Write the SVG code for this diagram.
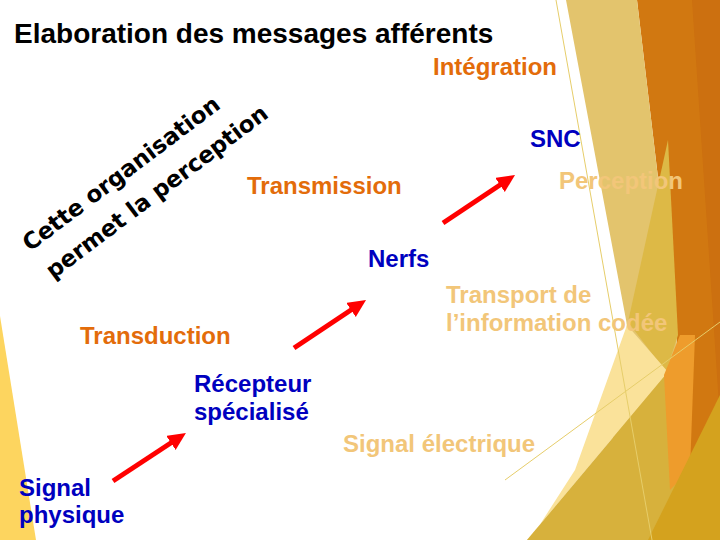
<svg xmlns="http://www.w3.org/2000/svg" width="720" height="540" viewBox="0 0 720 540">
<defs>
<style>
.t{font-family:"Liberation Sans",Arial,sans-serif;font-weight:bold;font-size:24px}
.blue{fill:#0000BF}
.orange{fill:#E36C0A}
.light{fill:#F2C679}
.title{font-family:"Liberation Sans",Arial,sans-serif;font-weight:bold;font-size:28px;fill:#000}
.hand{font-family:"DejaVu Sans",sans-serif;font-weight:bold;font-size:23px;fill:#000}
.arrow{stroke:#FF0000;stroke-width:5;fill:none;marker-end:url(#head)}
.thin{stroke:#E6CD6A;stroke-width:1;fill:none}
</style>
<marker id="head" markerUnits="userSpaceOnUse" markerWidth="19" markerHeight="18" refX="8" refY="8.5" orient="auto" viewBox="0 0 19 18">
<path d="M0,0 L18,8.5 L0,17 Z" fill="#FF0000"/>
</marker>
</defs>
<rect width="720" height="540" fill="#FFFFFF"/>
<g id="background">
<polygon points="0,316 36,540 0,540" fill="#FDD55F"/>
<polygon points="637,0 720,0 720,540 690,540 676,330" fill="#D17811"/>
<polygon points="692,0 720,0 720,420" fill="#CC7010"/>
<polygon points="566,0 637,0 676,330 690,540 600,540 627,325" fill="#E3C46D"/>
<polygon points="668,140 678,335 666,372 628,322" fill="#DDB946"/>
<polygon points="627,325 668,372 527,540 530,540 575,470" fill="#FAE29A"/>
<polygon points="527,540 668,372 690,360 690,540" fill="#D7B13C"/>
<polygon points="664,375 680,335 695,335 690,470 670,490" fill="#EE9C2C"/>
<polygon points="720,395 720,540 648,540" fill="#D4A21E"/>
<line class="thin" x1="556" y1="0" x2="652" y2="540"/>
<line class="thin" x1="505" y1="480" x2="720" y2="322"/>
</g>
<g id="title"><text class="title" x="14" y="43">Elaboration des messages afférents</text></g>
<g id="note" transform="translate(30,252) rotate(-37)">
<text class="hand" x="0" y="0" textLength="240" lengthAdjust="spacingAndGlyphs">Cette organisation</text>
<text class="hand" x="2" y="36" textLength="271" lengthAdjust="spacingAndGlyphs">permet la perception</text>
</g>
<g id="connectors">
<line class="arrow" x1="113" y1="481" x2="177.6" y2="438.5"/>
<line class="arrow" x1="294" y1="348" x2="357.7" y2="305.5"/>
<line class="arrow" x1="443" y1="223" x2="506.7" y2="180.5"/>
</g>
<g id="n-integration"><text class="t orange" x="433" y="75">Intégration</text></g>
<g id="n-snc"><text class="t blue" x="530" y="147">SNC</text></g>
<g id="n-perception"><text class="t light" x="559" y="189">Perception</text></g>
<g id="n-transmission"><text class="t orange" x="247" y="194">Transmission</text></g>
<g id="n-nerfs"><text class="t blue" x="368" y="267">Nerfs</text></g>
<g id="n-transport"><text class="t light" x="446" y="303">Transport de</text><text class="t light" x="446" y="331">l’information codée</text></g>
<g id="n-transduction"><text class="t orange" x="80" y="344">Transduction</text></g>
<g id="n-recepteur"><text class="t blue" x="194" y="392">Récepteur</text><text class="t blue" x="194" y="420">spécialisé</text></g>
<g id="n-signal-electrique"><text class="t light" x="343" y="452">Signal électrique</text></g>
<g id="n-signal-physique"><text class="t blue" x="19" y="496">Signal</text><text class="t blue" x="19" y="523">physique</text></g>
</svg>
